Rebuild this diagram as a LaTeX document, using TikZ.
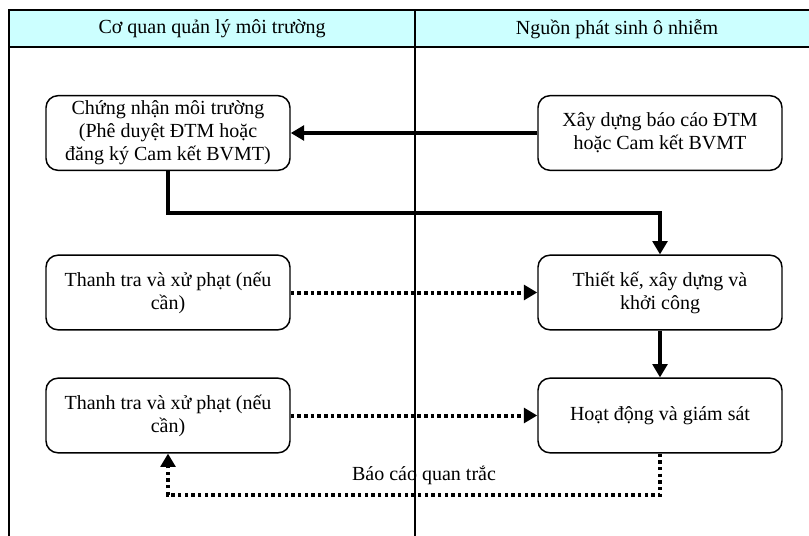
\documentclass[tikz,border=0pt]{standalone}
\usepackage{fontspec}
\setmainfont{Liberation Serif}
\usetikzlibrary{arrows.meta}
\definecolor{headcyan}{HTML}{CCFFFF}
\begin{document}
\begin{tikzpicture}[x=0.75pt,y=-0.75pt,
  box/.style={draw, line width=1.1pt, rounded corners=9pt, minimum width=183pt, minimum height=56pt, align=center, inner sep=2pt, font=\fontsize{15pt}{17.25pt}\selectfont},
  head/.style={font=\fontsize{15pt}{17.25pt}\selectfont},
  solidarrow/.style={line width=3pt, -{Triangle[length=10pt,width=11pt]}},
  dotarrow/.style={line width=3pt, dash pattern=on 2.6pt off 2.4pt, -{Triangle[length=10pt,width=11pt]}}]
\useasboundingbox (0,0) rectangle (809,535);
% header band and lanes
\fill[headcyan] (9,10) rectangle (812,47);
\draw[line width=1.5pt] (812,10) -- (9,10) -- (9,47) -- (812,47);
\draw[line width=1.5pt] (9,47) -- (9,536);
\draw[line width=1.1pt] (415,10) -- (415,536);
\node[head] (h1) at (212,29) {Cơ quan quản lý môi trường};
\node[head] (h2) at (617,29) {Nguồn phát sinh ô nhiễm};
% boxes
\node[box] (cn) at (168,133) {Chứng nhận môi trường\\(Phê duyệt ĐTM hoặc\\đăng ký Cam kết BVMT)};
\node[box] (xd) at (660,133) {Xây dựng báo cáo ĐTM\\hoặc Cam kết BVMT};
\node[box] (tt1) at (168,292.5) {Thanh tra và xử phạt (nếu\\cần)};
\node[box] (tk) at (660,292.5) {Thiết kế, xây dựng và\\khởi công};
\node[box] (tt2) at (168,415.5) {Thanh tra và xử phạt (nếu\\cần)};
\node[box] (hd) at (660,415.5) {Hoạt động và giám sát};
% connectors
\draw[solidarrow] (xd.west) -- (cn.east);
\draw[solidarrow] (cn.south) -- ++(0,42) -| (tk.north);
\draw[solidarrow] (tk.south) -- (hd.north);
\draw[dotarrow] (tt1.east) -- (tk.west);
\draw[dotarrow] (tt2.east) -- (hd.west);
\coordinate (fb) at (0,495);
\draw[dotarrow] (hd.south) |- (fb -| tt2.south) -- (tt2.south);
\node[head] (lbl) at (424,475) {Báo cáo quan trắc};
\end{tikzpicture}
\end{document}
